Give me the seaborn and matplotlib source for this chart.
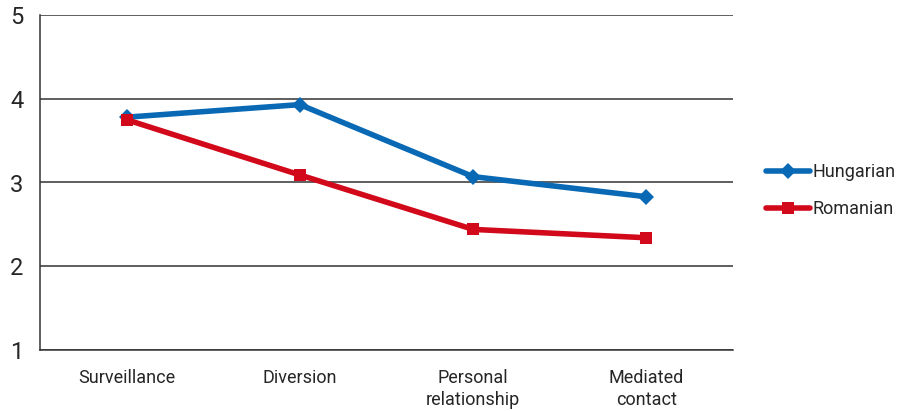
import matplotlib
matplotlib.use("Agg")
import matplotlib.pyplot as plt
import seaborn as sns
import pandas as pd
import numpy as np

categories = ["Surveillance", "Diversion", "Personal\nrelationship", "Mediated\ncontact"]
hungarian = [3.78, 3.93, 3.07, 2.83]
romanian = [3.75, 3.09, 2.44, 2.34]
series_names = ["Hungarian", "Romanian"]
y_ticks = [1, 2, 3, 4, 5]

df = pd.DataFrame({
    "category": categories * 2,
    "value": hungarian + romanian,
    "group": [series_names[0]] * len(categories) + [series_names[1]] * len(categories),
})

sns.set_theme(style="white")
plt.rcParams["font.family"] = ["Roboto", "DejaVu Sans"]

fig = plt.figure(figsize=(9.02, 4.11), dpi=100)
ax = fig.add_axes([40 / 902, 61 / 411, 693 / 902, 335 / 411])

palette = {"Hungarian": "#0969B4", "Romanian": "#D2091B"}
sns.lineplot(
    data=df, x="category", y="value", hue="group", style="group",
    palette=palette, markers={"Hungarian": "D", "Romanian": "s"},
    dashes=False, linewidth=4.0, markersize=8.5, markeredgewidth=0,
    sort=False, ax=ax,
)

ax.set_xlim(-0.5, len(categories) - 0.5)
ax.set_ylim(1, 5)
ax.set_yticks(y_ticks)
ax.set_yticklabels([str(t) for t in y_ticks], fontsize=17)
ax.yaxis.grid(True, color="#333333", linewidth=1.1)
ax.set_axisbelow(True)

ax.set_xticks(range(len(categories)))
ax.set_xticklabels(categories, fontsize=13, linespacing=1.25)
ax.set_xticks(np.arange(-0.5, len(categories), 1.0), minor=True)
ax.tick_params(axis="x", which="major", length=0, pad=14)
ax.tick_params(axis="x", which="minor", length=5, width=1.1, color="#333333", direction="out")
ax.tick_params(axis="y", length=6, width=1.1, color="#333333", direction="out", pad=6)
for lbl in ax.get_xticklabels():
    lbl.set_verticalalignment("top")

for side in ["top", "right"]:
    ax.spines[side].set_visible(False)
for side in ["left", "bottom"]:
    ax.spines[side].set_color("#333333")
    ax.spines[side].set_linewidth(1.1)

ax.set_xlabel("")
ax.set_ylabel("")

handles, labels = ax.get_legend_handles_labels()
ax.legend(handles, labels, loc="center left", bbox_to_anchor=(1.029, 0.476),
          frameon=False, fontsize=13, handlelength=2.45, handletextpad=0.15,
          labelspacing=1.05, borderaxespad=0.3)

fig.savefig("out.png", dpi=100)
